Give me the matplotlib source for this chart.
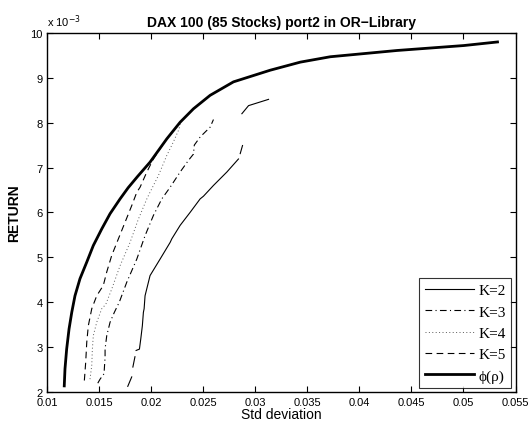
import numpy as np
import matplotlib
matplotlib.use("Agg")
import matplotlib.pyplot as plt
from matplotlib.ticker import FuncFormatter, FixedLocator

nan = np.nan

# Efficient frontier phi(rho)
phi_std = [0.01166, 0.01173, 0.01189, 0.01212, 0.01238, 0.01269, 0.01317, 0.01382,
           0.01445, 0.01526, 0.01606, 0.01702, 0.01780, 0.01870, 0.01990, 0.02151,
           0.02279, 0.02407, 0.02567, 0.02791, 0.03144, 0.03433, 0.03721, 0.04363,
           0.05003, 0.05327]
phi_ret = [2.13, 2.51, 2.95, 3.40, 3.77, 4.14, 4.52, 4.89,
           5.26, 5.63, 5.97, 6.30, 6.55, 6.80, 7.12, 7.64,
           8.01, 8.31, 8.61, 8.91, 9.17, 9.35, 9.47, 9.61,
           9.72, 9.80]

# K=2
k2_std = [0.01776, 0.01814, nan, 0.01825, 0.01845, nan, 0.01856, 0.01888, 0.01901,
          0.01916, 0.01926, 0.01933, 0.01942, 0.01990, 0.02087, 0.02183, 0.02199,
          0.02279, 0.02375, 0.02471, 0.02503, 0.02599, 0.02728, 0.02839, nan,
          0.02856, 0.02878, nan, 0.02872, 0.02936, 0.03128]
k2_ret = [2.12, 2.33, nan, 2.55, 2.78, nan, 2.92, 2.95, 3.18,
          3.47, 3.77, 3.85, 4.14, 4.59, 4.96, 5.33, 5.41,
          5.71, 6.00, 6.30, 6.36, 6.60, 6.90, 7.19, nan,
          7.31, 7.49, nan, 8.20, 8.38, 8.52]

# K=3
k3_std = [0.01488, 0.01510, 0.01548, 0.01558, 0.01558, 0.01574, 0.01606, 0.01647,
          0.01695, 0.01766, 0.01863, 0.01942, 0.02022, 0.02103, 0.02183, 0.02279,
          0.02359, 0.02407, 0.02415, 0.02471, 0.02567, 0.02599]
k3_ret = [2.19, 2.28, 2.40, 2.77, 2.95, 3.25, 3.55, 3.77,
          4.00, 4.44, 4.96, 5.48, 5.93, 6.30, 6.56, 6.90,
          7.16, 7.30, 7.50, 7.68, 7.90, 8.07]

# K=4
k4_std = [0.01413, 0.01430, 0.01436, 0.01445, 0.01478, 0.01526, 0.01565, 0.01622,
          0.01702, 0.01798, 0.01878, 0.01959, 0.01990, 0.02070, 0.02151, 0.02214,
          0.02269, 0.02279]
k4_ret = [2.28, 2.58, 2.95, 3.25, 3.55, 3.85, 3.95, 4.29,
          4.81, 5.33, 5.85, 6.30, 6.45, 6.82, 7.27, 7.57,
          7.86, 7.98]

# K=5
k5_std = [0.01359, 0.01372, 0.01382, 0.01397, 0.01430, 0.01478, 0.01541, 0.01574,
          0.01622, 0.01686, 0.01750, 0.01814, 0.01863, 0.01894, 0.01959, 0.02022,
          0.02087, 0.02151]
k5_ret = [2.25, 2.66, 3.10, 3.47, 3.85, 4.14, 4.37, 4.67,
          5.04, 5.41, 5.78, 6.15, 6.45, 6.56, 6.90, 7.19,
          7.42, 7.64]

x_ticks = [0.01, 0.015, 0.02, 0.025, 0.03, 0.035, 0.04, 0.045, 0.05, 0.055]
x_tick_labels = ["0.01", "0.015", "0.02", "0.025", "0.03", "0.035", "0.04", "0.045", "0.05", "0.055"]
y_ticks = [2, 3, 4, 5, 6, 7, 8, 9, 10]

title = "DAX 100 (85 Stocks) port2 in OR\u2212Library"

sans = ["Liberation Sans", "DejaVu Sans"]
serif = ["Liberation Serif", "DejaVu Serif"]

fig = plt.figure(figsize=(5.29, 4.27), dpi=100)
ax = fig.add_axes([0.0888, 0.0803, 0.8857, 0.8401])

scale = 1e-3
ax.plot(k2_std, np.array(k2_ret) * scale, color="k", lw=0.8, ls="-", label="K=2")
ax.plot(k3_std, np.array(k3_ret) * scale, color="k", lw=0.8, ls=(0, (6, 3, 1, 3)), label="K=3")
ax.plot(k4_std, np.array(k4_ret) * scale, color="0.35", lw=0.7, ls=(0, (1, 2.5)), label="K=4")
ax.plot(k5_std, np.array(k5_ret) * scale, color="k", lw=0.8, ls=(0, (6, 4)), label="K=5")
ax.plot(phi_std, np.array(phi_ret) * scale, color="k", lw=2.0, ls="-", label="\u03d5(\u03c1)")

ax.set_xlim(0.01, 0.055)
ax.set_ylim(2e-3, 10e-3)
ax.xaxis.set_major_locator(FixedLocator(x_ticks))
ax.set_xticklabels(x_tick_labels)
ax.yaxis.set_major_locator(FixedLocator([v * scale for v in y_ticks]))
ax.yaxis.set_major_formatter(FuncFormatter(lambda v, p: "%d" % round(v / scale)))

ax.tick_params(direction="in", top=True, right=True, length=4, width=0.8,
               labelsize=8)
ax.tick_params(axis="x", pad=3.5)
ax.tick_params(axis="y", pad=3)
for lab in ax.get_xticklabels() + ax.get_yticklabels():
    lab.set_family(sans)
for s in ax.spines.values():
    s.set_linewidth(1.0)

ax.text(0.0, 1.012, "x 10$^{-3}$", transform=ax.transAxes, fontsize=8,
        family=sans, ha="left", va="bottom")

ax.set_title(title, fontsize=10, fontweight="bold", family=sans, pad=5)
ax.set_xlabel("Std deviation", fontsize=10, family=sans, labelpad=0)
ax.set_ylabel("RETURN", fontsize=10, fontweight="bold", family=sans, labelpad=7)

leg = ax.legend(loc="lower right", bbox_to_anchor=(0.99, 0.0095),
                prop={"family": serif, "size": 11}, frameon=True, fancybox=False,
                edgecolor="k", handlelength=3.2, handletextpad=0.3,
                labelspacing=0.5, borderpad=0.35, borderaxespad=0.0)
leg.get_frame().set_linewidth(0.8)

fig.savefig("out.png", dpi=100)
